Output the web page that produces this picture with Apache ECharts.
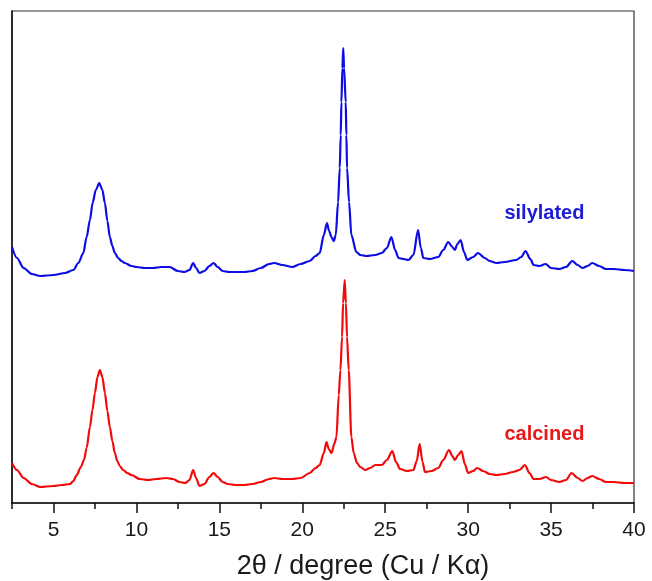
<!DOCTYPE html>
<html>
<head>
<meta charset="utf-8">
<title>XRD patterns</title>
<script src="https://cdn.jsdelivr.net/npm/echarts@6/dist/echarts.min.js"></script>
<style>
  html, body { margin: 0; padding: 0; background: #ffffff; }
  #chart { width: 652px; height: 581px; }
</style>
</head>
<body>
<div id="chart"></div>
<script>
// Powder XRD patterns (Cu Kα), intensity in arbitrary units.
const calcinedTwoTheta = [2.5, 2.8, 3.2, 3.7, 4.2, 5.0, 5.5, 6.0, 6.2, 6.4, 6.65, 6.84, 7.0, 7.2, 7.35, 7.5, 7.65, 7.8, 7.95, 8.1, 8.25, 8.4, 8.55, 8.7, 8.85, 9.0, 9.2, 9.45, 9.7, 10.2, 10.7, 11.2, 11.8, 12.2, 12.6, 12.95, 13.2, 13.42, 13.6, 13.8, 14.1, 14.4, 14.65, 14.9, 15.2, 15.5, 16.0, 16.5, 17.0, 17.5, 18.0, 18.3, 18.8, 19.4, 19.9, 20.45, 20.8, 21.05, 21.3, 21.46, 21.6, 21.76, 21.95, 22.06, 22.2, 22.3, 22.4, 22.46, 22.56, 22.63, 22.7, 22.8, 22.96, 23.1, 23.3, 23.5, 23.8, 24.1, 24.4, 24.8, 25.1, 25.43, 25.65, 25.9, 26.3, 26.7, 26.9, 27.08, 27.25, 27.4, 27.8, 28.2, 28.5, 28.84, 29.05, 29.2, 29.4, 29.6, 29.8, 30.0, 30.3, 30.55, 30.9, 31.3, 31.7, 32.2, 32.7, 33.1, 33.42, 33.7, 33.95, 34.3, 34.7, 35.0, 35.5, 35.9, 36.24, 36.6, 36.9, 37.2, 37.48, 37.9, 38.3, 38.8, 39.4, 40.0];
const calcinedIntensity = [40, 33, 25, 19, 16, 17, 18, 19, 22, 28, 36, 43, 55, 76, 93, 110, 126, 133, 126, 110, 92, 76, 62, 50, 42, 37, 33, 30, 28, 24, 23, 24, 25, 24, 21, 20, 23, 33, 25, 17, 19, 26, 30, 26, 21, 19, 18, 18, 19, 21, 24, 25, 24, 24, 25, 30, 35, 38, 50, 61, 54, 50, 60, 66, 108, 133, 166, 200, 223, 200, 166, 133, 66, 50, 40, 36, 33, 35, 38, 38, 43, 52, 41, 34, 32, 33, 42, 59, 41, 31, 32, 35, 43, 53, 47, 43, 48, 52, 39, 30, 32, 35, 32, 29, 28, 29, 31, 33, 38, 30, 24, 24, 26, 23, 21, 23, 30, 25, 22, 25, 27, 24, 21, 21, 20, 20];

const silylatedTwoTheta = [2.5, 2.8, 3.2, 3.7, 4.2, 5.0, 5.7, 6.2, 6.5, 6.8, 7.0, 7.2, 7.36, 7.55, 7.76, 7.95, 8.1, 8.25, 8.4, 8.55, 8.7, 8.9, 9.1, 9.3, 9.7, 10.0, 10.5, 11.0, 11.5, 12.0, 12.5, 12.9, 13.2, 13.42, 13.6, 13.8, 14.1, 14.4, 14.65, 14.9, 15.2, 15.6, 16.0, 16.5, 17.0, 17.5, 18.0, 18.3, 18.8, 19.4, 19.9, 20.45, 20.8, 21.05, 21.3, 21.49, 21.62, 21.76, 21.9, 22.02, 22.16, 22.26, 22.32, 22.36, 22.42, 22.47, 22.52, 22.62, 22.66, 22.7, 22.82, 22.96, 23.26, 23.5, 23.87, 24.4, 24.8, 25.1, 25.37, 25.6, 25.8, 26.1, 26.4, 26.7, 26.98, 27.15, 27.3, 27.7, 28.2, 28.5, 28.8, 29.05, 29.2, 29.35, 29.55, 29.75, 29.95, 30.3, 30.6, 31.0, 31.3, 31.7, 32.2, 32.9, 33.2, 33.46, 33.75, 33.95, 34.3, 34.67, 35.0, 35.5, 35.9, 36.28, 36.6, 36.9, 37.2, 37.48, 37.9, 38.3, 38.8, 39.4, 40.0];
const silylatedIntensity = [44, 33, 23, 17, 15, 16, 18, 21, 28, 38, 54, 71, 88, 101, 108, 101, 88, 70, 54, 45, 38, 33, 30, 28, 25, 24, 23, 23, 24, 24, 20, 19, 21, 28, 23, 18, 20, 25, 28, 24, 20, 19, 19, 19, 20, 23, 27, 28, 26, 24, 27, 30, 35, 38, 56, 68, 60, 54, 50, 56, 89, 123, 156, 189, 223, 243, 223, 189, 156, 123, 89, 56, 39, 36, 35, 36, 38, 43, 54, 41, 33, 32, 31, 36, 61, 43, 33, 32, 34, 41, 49, 44, 41, 47, 51, 39, 31, 34, 38, 33, 30, 28, 29, 31, 34, 40, 32, 26, 25, 27, 23, 22, 24, 30, 26, 23, 25, 28, 25, 22, 22, 21, 20];

// Vertical shift applied to the silylated trace so the two patterns stack.
const SILYLATED_OFFSET = 212;

const majorTicks = [5, 10, 15, 20, 25, 30, 35, 40];
const minorTicks = [2.5, 7.5, 12.5, 17.5, 22.5, 27.5, 32.5, 37.5];

// Series name labels, in data units [2θ, stacked intensity].
const silylatedLabelAt = [34.6, 290];
const calcinedLabelAt = [34.6, 69];

const FONT = "'Liberation Sans', Arial, Helvetica, sans-serif";
const BLUE = '#0c0ce4';
const RED = '#f20a0a';

const calcinedData = calcinedTwoTheta.map((x, i) => [x, calcinedIntensity[i]]);
const silylatedData = silylatedTwoTheta.map((x, i) => [x, silylatedIntensity[i] + SILYLATED_OFFSET]);

function nameLabel(text, coord, color) {
  return {
    silent: true,
    symbol: 'rect',
    symbolSize: 1,
    itemStyle: { color: 'rgba(0,0,0,0)' },
    label: {
      show: true,
      position: 'inside',
      formatter: text,
      color: color,
      fontFamily: FONT,
      fontWeight: 'bold',
      fontSize: 20
    },
    data: [{ coord: coord }]
  };
}

const chart = echarts.init(document.getElementById('chart'), null, { renderer: 'canvas' });
chart.setOption({
  animation: false,
  backgroundColor: '#ffffff',
  grid: {
    left: 12, right: 18, top: 11, bottom: 78,
    outerBoundsMode: 'none',
    containLabel: false,
    show: true,
    borderColor: '#333333',
    borderWidth: 1.2,
    backgroundColor: 'transparent'
  },
  xAxis: [
    {
      type: 'value',
      min: 2.5,
      max: 40,
      position: 'bottom',
      name: '2θ / degree (Cu / Kα)',
      nameLocation: 'middle',
      nameGap: 50,
      nameTextStyle: {
        fontFamily: FONT,
        fontSize: 27,
        color: '#1a1a1a',
        padding: [0, 0, 0, 80]
      },
      axisLine: { show: true, lineStyle: { color: '#111111', width: 1.5 } },
      axisTick: {
        show: true,
        inside: false,
        length: 10,
        customValues: majorTicks,
        lineStyle: { color: '#111111', width: 1.5 }
      },
      axisLabel: {
        show: true,
        customValues: majorTicks,
        margin: 17,
        fontFamily: FONT,
        fontSize: 21,
        color: '#1a1a1a'
      },
      splitLine: { show: false }
    },
    {
      type: 'value',
      min: 2.5,
      max: 40,
      position: 'bottom',
      axisLine: { show: false },
      axisTick: {
        show: true,
        inside: false,
        length: 6,
        customValues: minorTicks,
        lineStyle: { color: '#111111', width: 1.5 }
      },
      axisLabel: { show: false },
      splitLine: { show: false }
    }
  ],
  yAxis: {
    type: 'value',
    min: 0,
    max: 492,
    axisLine: { show: true, lineStyle: { color: '#111111', width: 1.5 } },
    axisTick: { show: false },
    axisLabel: { show: false },
    splitLine: { show: false }
  },
  series: [
    {
      name: 'silylated',
      type: 'line',
      xAxisIndex: 0,
      data: silylatedData,
      showSymbol: false,
      smooth: 0.3,
      smoothMonotone: 'x',
      lineStyle: { color: BLUE, width: 2.2 },
      markPoint: nameLabel('silylated', silylatedLabelAt, '#1c1cd6')
    },
    {
      name: 'calcined',
      type: 'line',
      xAxisIndex: 0,
      data: calcinedData,
      showSymbol: false,
      smooth: 0.3,
      smoothMonotone: 'x',
      lineStyle: { color: RED, width: 2.2 },
      markPoint: nameLabel('calcined', calcinedLabelAt, '#e81818')
    }
  ]
});
</script>
</body>
</html>
